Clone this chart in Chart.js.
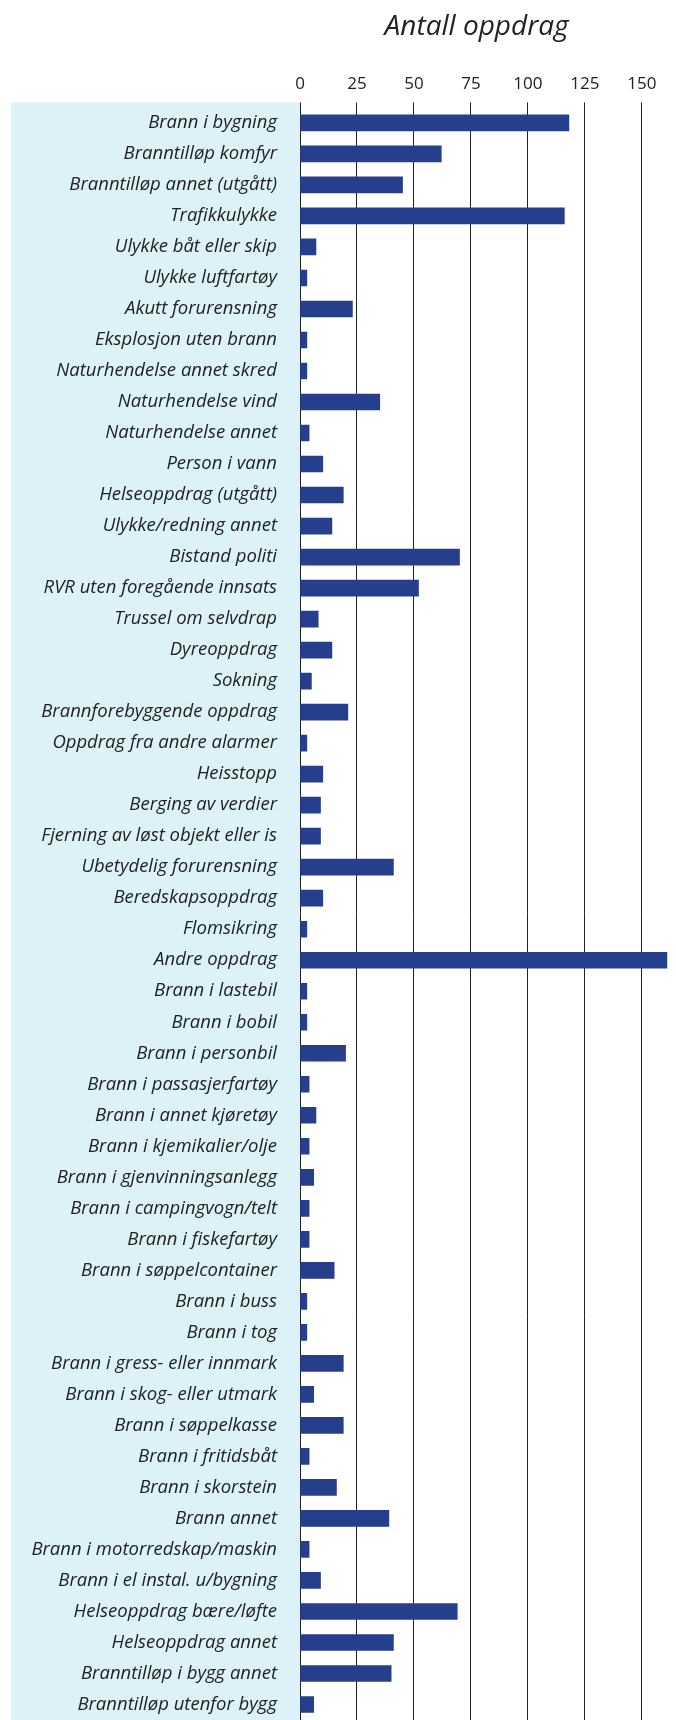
<!DOCTYPE html>
<html>
<head>
<meta charset="utf-8">
<script src="https://cdn.jsdelivr.net/npm/chart.js@4.4.1/dist/chart.umd.min.js"></script>
<style>
  html, body { margin: 0; padding: 0; background: #fff; }
  #wrap { width: 676px; height: 1720px; }
</style>
</head>
<body>
<div id="wrap"><canvas id="oppdragChart"></canvas></div>
<script>
const kategorier = [
    'Brann i bygning', 'Branntilløp komfyr', 'Branntilløp annet (utgått)', 'Trafikkulykke',
    'Ulykke båt eller skip', 'Ulykke luftfartøy', 'Akutt forurensning', 'Eksplosjon uten brann',
    'Naturhendelse annet skred', 'Naturhendelse vind', 'Naturhendelse annet', 'Person i vann',
    'Helseoppdrag (utgått)', 'Ulykke/redning annet', 'Bistand politi', 'RVR uten foregående innsats',
    'Trussel om selvdrap', 'Dyreoppdrag', 'Sokning', 'Brannforebyggende oppdrag',
    'Oppdrag fra andre alarmer', 'Heisstopp', 'Berging av verdier', 'Fjerning av løst objekt eller is',
    'Ubetydelig forurensning', 'Beredskapsoppdrag', 'Flomsikring', 'Andre oppdrag',
    'Brann i lastebil', 'Brann i bobil', 'Brann i personbil', 'Brann i passasjerfartøy',
    'Brann i annet kjøretøy', 'Brann i kjemikalier/olje', 'Brann i gjenvinningsanlegg', 'Brann i campingvogn/telt',
    'Brann i fiskefartøy', 'Brann i søppelcontainer', 'Brann i buss', 'Brann i tog',
    'Brann i gress- eller innmark', 'Brann i skog- eller utmark', 'Brann i søppelkasse', 'Brann i fritidsbåt',
    'Brann i skorstein', 'Brann annet', 'Brann i motorredskap/maskin', 'Brann i el instal. u/bygning',
    'Helseoppdrag bære/løfte', 'Helseoppdrag annet', 'Branntilløp i bygg annet', 'Branntilløp utenfor bygg'
];

const antall = [
    118, 62, 45, 116,
    7, 3, 23, 3,
    3, 35, 4, 10,
    19, 14, 70, 52,
    8, 14, 5, 21,
    3, 10, 9, 9,
    41, 10, 3, 161,
    3, 3, 20, 4,
    7, 4, 6, 4,
    4, 15, 3, 3,
    19, 6, 19, 4,
    16, 39, 4, 9,
    69, 41, 40, 6
];

const akseTicks = [0, 25, 50, 75, 100, 125, 150];
const akseMaks = 165;
const tittel = 'Antall oppdrag';

// lyseblå bakgrunn bak kategoriene + tittel over aksen
const bakgrunnOgTittel = {
    id: 'bakgrunnOgTittel',
    beforeDraw(chart) {
        const { ctx, chartArea } = chart;
        ctx.save();
        ctx.fillStyle = '#ddf2f8';
        ctx.fillRect(11, chartArea.top - 5, chartArea.left - 11, chart.height - chartArea.top + 5);
        ctx.restore();
    },
    afterDraw(chart) {
        const { ctx } = chart;
        const x = chart.scales.x.getPixelForValue(77.5);
        ctx.save();
        ctx.font = 'italic 28px "Open Sans"';
        ctx.fillStyle = '#222';
        ctx.textAlign = 'center';
        ctx.fillText(tittel, x, 35);
        ctx.restore();
    }
};

new Chart(document.getElementById('oppdragChart'), {
    type: 'bar',
    data: {
        labels: kategorier,
        datasets: [{
            data: antall,
            backgroundColor: '#263f8d',
            borderWidth: 0,
            barThickness: 16,
            categoryPercentage: 1
        }]
    },
    options: {
        indexAxis: 'y',
        responsive: true,
        maintainAspectRatio: false,
        animation: false,
        layout: { padding: { top: 66, left: 0, right: 0, bottom: 0 } },
        plugins: {
            legend: { display: false },
            tooltip: { enabled: false }
        },
        scales: {
            x: {
                position: 'top',
                min: 0,
                max: akseMaks,
                afterBuildTicks: (scale) => {
                    scale.ticks = akseTicks.map(v => ({ value: v }));
                },
                ticks: {
                    color: '#222',
                    font: { family: 'Open Sans', size: 17 },
                    padding: 8
                },
                grid: {
                    color: '#222',
                    lineWidth: 1,
                    tickLength: 5,
                    drawTicks: true
                },
                border: { display: false }
            },
            y: {
                afterFit: (scale) => {
                    scale.width = 300;
                    // ikke la tick-padding spise plass nederst
                    scale.paddingTop = 0;
                    scale.paddingBottom = 0;
                },
                ticks: {
                    autoSkip: false,
                    color: '#222',
                    font: { family: 'Open Sans', size: 18.5, style: 'italic' },
                    padding: 23
                },
                grid: { display: false, drawTicks: false },
                border: { display: false }
            }
        }
    },
    plugins: [bakgrunnOgTittel]
});
</script>
</body>
</html>
